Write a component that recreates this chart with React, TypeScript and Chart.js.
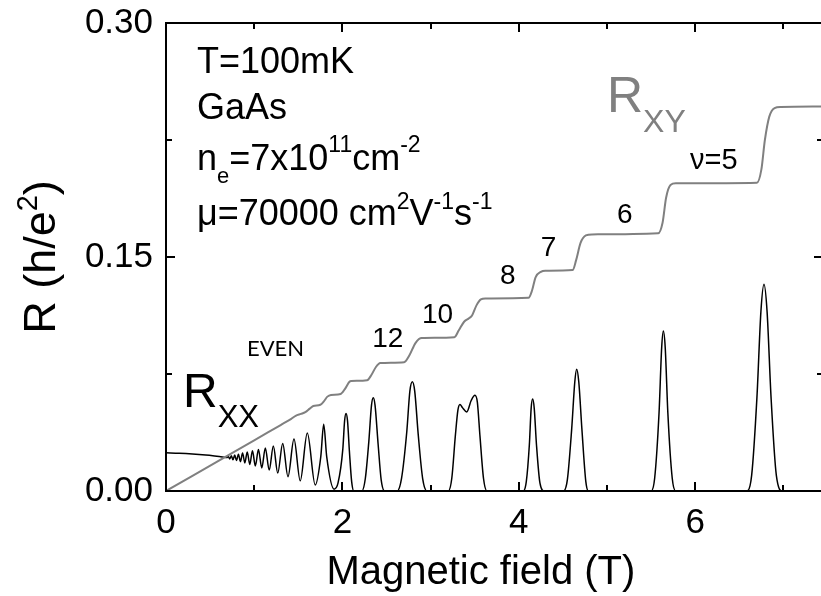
import React, { useEffect, useRef } from "react";
import { Chart, registerables } from "chart.js";

Chart.register(...registerables);

// ---------- axis ticks ----------
const xTicks = [0, 2, 4, 6];
const xTickLabels = ["0", "2", "4", "6"];
const xMinorTicks = [1, 3, 5, 7];
const yTicks = [0, 0.15, 0.3];
const yTickLabels = ["0.00", "0.15", "0.30"];
const yMinorTicks = [0.075, 0.225];
const xTitle = "Magnetic field (T)";
const yTitleMain = "R (h/e";
const yTitleSup = "2";
const yTitleEnd = ")";

// ---------- R_xy (Hall resistance, h/e^2) ----------
const rxyField = [
  0.0, 0.6, 1.0, 1.3, 1.42, 1.47, 1.53, 1.58, 1.63, 1.67, 1.75, 1.79, 1.83, 1.87, 1.98,
  2.03, 2.08, 2.1, 2.28, 2.33, 2.38, 2.43, 2.7, 2.76, 2.83, 2.9, 3.27, 3.32, 3.38, 3.43,
  3.47, 3.52, 3.57, 3.62, 4.11, 4.15, 4.19, 4.25, 4.3, 4.61, 4.65, 4.7, 4.76, 4.83, 5.58,
  5.63, 5.67, 5.72, 5.78, 6.7, 6.75, 6.79, 6.84, 6.9, 6.97, 7.45,
];
const rxyValue = [
  0.0, 0.0195, 0.0325, 0.0423, 0.0462, 0.0482, 0.0494, 0.0505, 0.0528, 0.0545, 0.0553,
  0.0575, 0.0605, 0.0616, 0.0622, 0.0655, 0.07, 0.0705, 0.071, 0.0745, 0.0795, 0.082,
  0.0826, 0.087, 0.095, 0.098, 0.0986, 0.103, 0.1085, 0.1105, 0.1125, 0.119, 0.1228,
  0.1234, 0.1238, 0.1285, 0.137, 0.1405, 0.1412, 0.1416, 0.148, 0.159, 0.1638, 0.1645,
  0.1652, 0.172, 0.188, 0.1962, 0.1972, 0.1976, 0.206, 0.225, 0.24, 0.2455, 0.2462, 0.2465,
];

// ---------- R_xx (longitudinal resistance, h/e^2) ----------
const rxxField = [
  0.0, 0.15, 0.3, 0.45, 0.55, 0.64, 0.69, 0.706, 0.723, 0.741, 0.759, 0.779, 0.799, 0.821,
  0.844, 0.868, 0.894, 0.921, 0.95, 0.98, 1.013, 1.048, 1.086, 1.126, 1.17, 1.217, 1.267,
  1.323, 1.383, 1.451, 1.522, 1.602, 1.692, 1.755, 1.788, 1.822, 1.905, 1.95, 2.005, 2.025,
  2.041, 2.058, 2.08, 2.105, 2.13, 2.22, 2.26, 2.3, 2.33, 2.35, 2.37, 2.405, 2.44, 2.48,
  2.62, 2.67, 2.73, 2.765, 2.793, 2.82, 2.86, 2.91, 2.96, 3.2, 3.24, 3.28, 3.31, 3.333,
  3.36, 3.41, 3.46, 3.503, 3.53, 3.56, 3.6, 3.64, 4.05, 4.085, 4.12, 4.14, 4.157, 4.175,
  4.2, 4.24, 4.29, 4.505, 4.55, 4.6, 4.635, 4.656, 4.68, 4.715, 4.76, 4.79, 5.5, 5.54,
  5.59, 5.62, 5.639, 5.66, 5.69, 5.74, 5.78, 6.59, 6.64, 6.7, 6.745, 6.78, 6.815, 6.86,
  6.92, 6.99, 7.45,
];
const rxxValue = [
  0.0245, 0.0242, 0.0237, 0.023, 0.0224, 0.0218, 0.0214, 0.0222, 0.0205, 0.0226, 0.02,
  0.023, 0.0195, 0.0236, 0.0188, 0.0243, 0.018, 0.025, 0.017, 0.0258, 0.016, 0.0266,
  0.0148, 0.0276, 0.0134, 0.0288, 0.0115, 0.0305, 0.0092, 0.0333, 0.0065, 0.0372, 0.0038,
  0.022, 0.0428, 0.022, 0.0012, 0.005, 0.027, 0.045, 0.0497, 0.045, 0.025, 0.006, 0.0,
  0.0, 0.008, 0.032, 0.055, 0.0597, 0.055, 0.03, 0.007, 0.0, 0.0, 0.008, 0.038, 0.064,
  0.07, 0.064, 0.036, 0.008, 0.0, 0.0, 0.008, 0.035, 0.052, 0.0555, 0.0535, 0.0507, 0.058,
  0.0614, 0.057, 0.035, 0.008, 0.0, 0.0, 0.006, 0.03, 0.053, 0.0589, 0.053, 0.03, 0.005,
  0.0, 0.0, 0.007, 0.04, 0.07, 0.0781, 0.07, 0.04, 0.006, 0.0, 0.0, 0.008, 0.05, 0.092,
  0.1025, 0.092, 0.05, 0.008, 0.0, 0.0, 0.01, 0.06, 0.115, 0.1325, 0.115, 0.06, 0.01,
  0.0, 0.0,
];

const FONT = "'Liberation Sans', Arial, Helvetica, sans-serif";
const GRAY = "#808080";

type Seg = { t: string; s: number; dy: number };

function drawRich(ctx: CanvasRenderingContext2D, x: number, y: number, segs: Seg[], color: string) {
  ctx.fillStyle = color;
  ctx.textBaseline = "alphabetic";
  ctx.textAlign = "left";
  let cx = x;
  for (const g of segs) {
    ctx.font = `${g.s}px ${FONT}`;
    ctx.fillText(g.t, cx, y + g.dy);
    cx += ctx.measureText(g.t).width;
  }
}

function richWidth(ctx: CanvasRenderingContext2D, segs: Seg[]) {
  let w = 0;
  for (const g of segs) {
    ctx.font = `${g.s}px ${FONT}`;
    w += ctx.measureText(g.t).width;
  }
  return w;
}

const framePlugin = {
  id: "frame",
  afterDatasetsDraw(chart: any) {
    const { ctx, chartArea } = chart;
    const { left, right, top, bottom } = chartArea;
    const xs = chart.scales.x;
    const ys = chart.scales.y;
    ctx.save();
    ctx.strokeStyle = "#000";
    ctx.lineWidth = 2;
    ctx.strokeRect(left, top, right - left, bottom - top);
    const major = 9;
    const minor = 6;
    ctx.beginPath();
    const xt = (vals: number[], len: number) => {
      for (const v of vals) {
        const px = Math.round(xs.getPixelForValue(v));
        ctx.moveTo(px, bottom);
        ctx.lineTo(px, bottom - len);
        ctx.moveTo(px, top);
        ctx.lineTo(px, top + len);
      }
    };
    const yt = (vals: number[], len: number) => {
      for (const v of vals) {
        const py = Math.round(ys.getPixelForValue(v));
        ctx.moveTo(left, py);
        ctx.lineTo(left + len, py);
        ctx.moveTo(right, py);
        ctx.lineTo(right - len, py);
      }
    };
    xt(xTicks, major);
    xt(xMinorTicks, minor);
    yt(yTicks, major);
    yt(yMinorTicks, minor);
    ctx.stroke();
    ctx.restore();
  },
};

const textPlugin = {
  id: "annotations",
  afterDraw(chart: any) {
    const { ctx, chartArea } = chart;
    const xs = chart.scales.x;
    const ys = chart.scales.y;
    const X = (v: number) => xs.getPixelForValue(v);
    const Y = (v: number) => ys.getPixelForValue(v);
    ctx.save();
    // y axis title (rotated, with superscript)
    const ySegs: Seg[] = [
      { t: yTitleMain, s: 45, dy: 0 },
      { t: yTitleSup, s: 29, dy: -18 },
      { t: yTitleEnd, s: 45, dy: 0 },
    ];
    const tw = richWidth(ctx, ySegs);
    const cy = (chartArea.top + chartArea.bottom) / 2;
    ctx.save();
    ctx.translate(55, cy);
    ctx.rotate(-Math.PI / 2);
    drawRich(ctx, -tw / 2, 0, ySegs, "#000");
    ctx.restore();

    // x axis title
    const xSegs: Seg[] = [{ t: xTitle, s: 40, dy: 0 }];
    const xw = richWidth(ctx, xSegs);
    drawRich(ctx, X(3.57) - xw / 2, chartArea.bottom + 93, xSegs, "#000");

    // sample info block
    const bx = X(0.351);
    drawRich(ctx, bx, Y(0.268), [{ t: "T=100mK", s: 36, dy: 0 }], "#000");
    drawRich(ctx, bx, Y(0.2387), [{ t: "GaAs", s: 36, dy: 0 }], "#000");
    drawRich(
      ctx,
      bx,
      Y(0.2056),
      [
        { t: "n", s: 36, dy: 0 },
        { t: "e", s: 22, dy: 13 },
        { t: "=7x10", s: 36, dy: 0 },
        { t: "11", s: 23, dy: -18 },
        { t: "cm", s: 36, dy: 0 },
        { t: "-2", s: 23, dy: -18 },
      ],
      "#000"
    );
    drawRich(
      ctx,
      bx,
      Y(0.1703),
      [
        { t: "\u03BC=70000 cm", s: 36, dy: 0 },
        { t: "2", s: 23, dy: -16 },
        { t: "V", s: 36, dy: 0 },
        { t: "-1", s: 23, dy: -16 },
        { t: "s", s: 36, dy: 0 },
        { t: "-1", s: 23, dy: -16 },
      ],
      "#000"
    );
    // filling factors
    const num = (t: string, x: number, y: number, s = 28) =>
      drawRich(ctx, X(x), Y(y), [{ t, s, dy: 0 }], "#000");
    num("12", 2.339, 0.0923);
    num("10", 2.902, 0.1077);
    num("8", 3.787, 0.1329);
    num("7", 4.25, 0.1504);
    num("6", 5.113, 0.1716);
    num("\u03BD=5", 5.941, 0.2067, 29);
    // EVEN
    ctx.fillStyle = "#000";
    ctx.font = `22px Lato, 'Open Sans', sans-serif`;
    ctx.textAlign = "left";
    ctx.textBaseline = "alphabetic";
    ctx.fillText("EVEN", X(0.918), Y(0.0863));
    // curve names
    drawRich(ctx, X(0.193), Y(0.0538), [{ t: "R", s: 48, dy: 0 }, { t: "XX", s: 31, dy: 20 }], "#000");
    drawRich(ctx, X(5.0), Y(0.243), [{ t: "R", s: 50, dy: 0 }, { t: "XY", s: 32, dy: 20 }], GRAY);
    ctx.restore();
  },
};

export default function App() {
  const ref = useRef<HTMLCanvasElement | null>(null);
  useEffect(() => {
    if (!ref.current) return;
    const chart = new Chart(ref.current, {
      type: "line",
      data: {
        datasets: [
          {
            label: "R_XY",
            data: rxyField.map((b, i) => ({ x: b, y: rxyValue[i] })),
            borderColor: GRAY,
            borderWidth: 2,
            pointRadius: 0,
            cubicInterpolationMode: "monotone",
            fill: false,
          },
          {
            label: "R_XX",
            data: rxxField.map((b, i) => ({ x: b, y: rxxValue[i] })),
            borderColor: "#000",
            borderWidth: 1.5,
            pointRadius: 0,
            cubicInterpolationMode: "monotone",
            fill: false,
          },
        ],
      },
      options: {
        responsive: false,
        animation: false,
        devicePixelRatio: 1,
        layout: { padding: { left: 0, right: 3, top: 23, bottom: 0 } },
        plugins: { legend: { display: false }, tooltip: { enabled: false } },
        scales: {
          x: {
            type: "linear",
            min: 0,
            max: 7.449,
            grid: { display: false },
            border: { display: false },
            afterBuildTicks: (s: any) => {
              s.ticks = xTicks.map((v) => ({ value: v }));
            },
            afterFit: (s: any) => {
              s.height = 105;
              s.paddingLeft = 0;
              s.paddingRight = 0;
            },
            ticks: {
              autoSkip: false,
              maxRotation: 0,
              padding: 3,
              color: "#000",
              font: { family: FONT, size: 35 },
              callback: (v: any) => xTickLabels[xTicks.indexOf(Number(v))] ?? "",
            },
            title: { display: false },
          },
          y: {
            type: "linear",
            min: 0,
            max: 0.3,
            grid: { display: false },
            border: { display: false },
            afterBuildTicks: (s: any) => {
              s.ticks = yTicks.map((v) => ({ value: v }));
            },
            afterFit: (s: any) => {
              s.width = 166;
              s.paddingTop = 0;
              s.paddingBottom = 0;
            },
            ticks: {
              autoSkip: false,
              padding: 5,
              color: "#000",
              font: { family: FONT, size: 35 },
              callback: (v: any) => {
                const i = yTicks.findIndex((t) => Math.abs(t - Number(v)) < 1e-9);
                return i >= 0 ? yTickLabels[i] : "";
              },
            },
            title: { display: false },
          },
        },
      },
      plugins: [framePlugin, textPlugin],
    } as any);
    return () => chart.destroy();
  }, []);
  return (
    <div
      style={{
        position: "absolute",
        left: 0,
        top: 0,
        width: 821,
        height: 596,
        overflow: "hidden",
        background: "#fff",
      }}
    >
      <canvas ref={ref} width={826} height={596} style={{ display: "block", width: 826, height: 596 }} />
    </div>
  );
}
